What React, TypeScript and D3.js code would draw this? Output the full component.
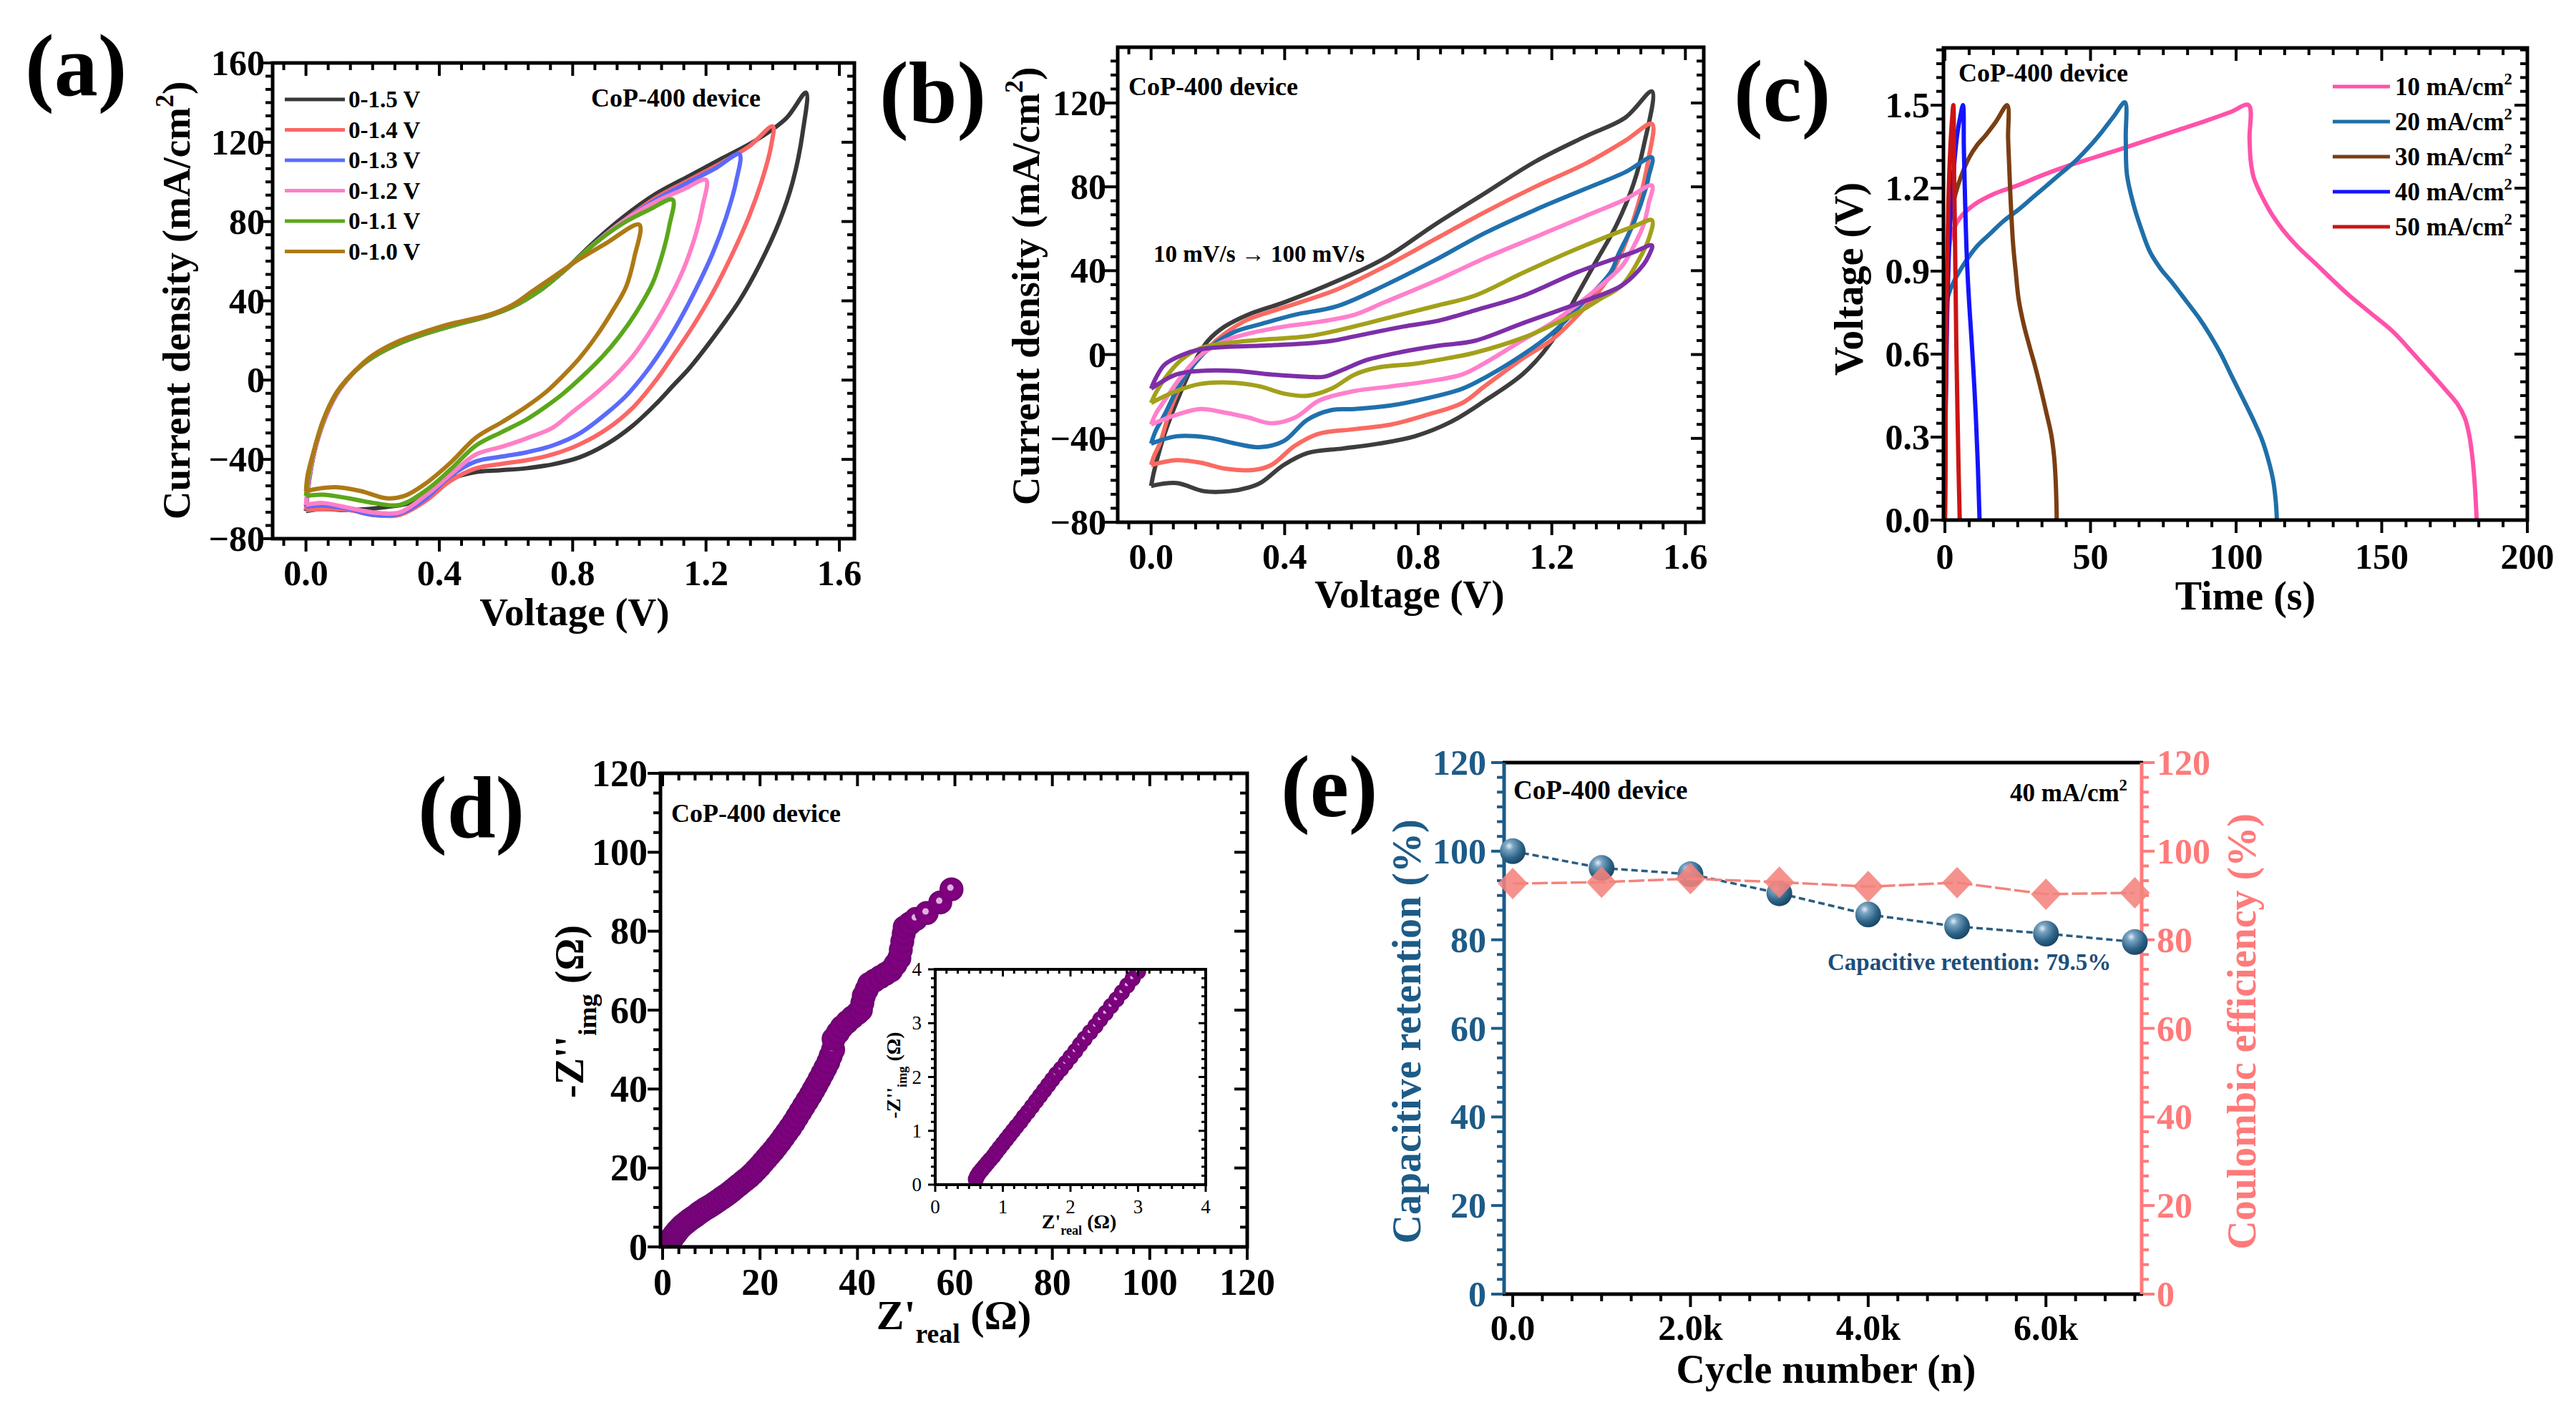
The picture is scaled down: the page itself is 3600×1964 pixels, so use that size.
import React, { useRef, useEffect } from 'react';
import * as d3 from 'd3';

type Pt = [number, number];

const W = 3600;
const H = 1964;
const SERIF = '"Liberation Serif", "Times New Roman", Times, serif';

// ---------- (a) CV loops at different potential windows: [V, mA/cm2] ----------
const windowLabels = ['0-1.5 V', '0-1.4 V', '0-1.3 V', '0-1.2 V', '0-1.1 V', '0-1.0 V'];
const windowColors = ['#383838', '#fb6666', '#5b6bfb', '#ff7fc6', '#5ba71a', '#ad7915'];

const cv15: Pt[] = [[0, -66], [0.01, -50], [0.03, -33], [0.06, -18], [0.1, -5], [0.15, 5], [0.2, 11.5], [0.28, 18.5], [0.36, 23.5], [0.45, 28], [0.55, 32.5], [0.62, 37], [0.7, 45], [0.78, 56], [0.86, 69], [0.95, 82], [1.05, 94], [1.15, 103], [1.25, 112], [1.35, 121], [1.44, 132], [1.5, 145],
  [1.49, 125], [1.46, 100], [1.42, 80], [1.36, 58], [1.3, 40], [1.22, 21], [1.15, 6], [1.1, -3], [1.05, -12], [0.98, -23], [0.9, -32.5], [0.82, -39], [0.74, -42.5], [0.66, -44.5], [0.58, -45.5], [0.51, -46.4], [0.43, -50], [0.39, -53], [0.35, -58], [0.31, -62], [0.24, -64], [0.13, -65.6], [0.05, -65], [0, -66]];
const cv14: Pt[] = [[0, -65.6], [0.01, -50], [0.03, -33], [0.06, -18], [0.1, -5], [0.15, 5], [0.2, 11.5], [0.28, 18.5], [0.36, 23.5], [0.45, 28], [0.55, 32.5], [0.62, 37], [0.7, 45], [0.78, 56], [0.86, 68], [0.95, 80], [1.05, 92], [1.15, 101], [1.25, 110], [1.33, 118], [1.4, 128],
  [1.395, 118], [1.37, 102], [1.33, 83], [1.28, 64], [1.22, 44], [1.16, 27], [1.1, 12], [1.05, 0], [0.98, -14], [0.9, -25], [0.82, -32.5], [0.74, -37.5], [0.66, -40.5], [0.59, -42.2], [0.51, -44.5], [0.43, -51.2], [0.36, -60.8], [0.28, -68], [0.2, -68], [0.13, -65.6], [0.05, -65], [0, -65.6]];
const cv13: Pt[] = [[0, -63.8], [0.01, -49], [0.03, -33], [0.06, -18], [0.1, -5], [0.15, 5], [0.2, 11.5], [0.28, 18.5], [0.36, 23.5], [0.45, 28], [0.55, 32.5], [0.62, 37], [0.7, 45], [0.78, 56], [0.86, 68], [0.95, 80], [1.05, 91], [1.15, 100], [1.23, 107], [1.3, 114],
  [1.29, 100], [1.26, 82], [1.22, 64], [1.17, 46], [1.12, 30], [1.07, 16], [1.02, 4], [0.96, -8], [0.9, -17], [0.82, -27], [0.74, -33], [0.66, -36.5], [0.59, -38.5], [0.51, -41], [0.43, -48.8], [0.36, -59.6], [0.28, -67.4], [0.2, -68], [0.13, -65], [0.05, -63.2], [0, -63.8]];
const cv12: Pt[] = [[0, -63], [0.01, -48], [0.03, -33], [0.06, -18], [0.1, -5], [0.15, 5], [0.2, 11.5], [0.28, 18.5], [0.36, 23.5], [0.45, 28], [0.55, 32.5], [0.62, 37], [0.7, 45], [0.78, 56], [0.86, 68], [0.95, 80], [1.05, 90], [1.13, 96], [1.2, 101],
  [1.19, 88], [1.17, 74], [1.13, 55], [1.08, 38], [1.03, 24], [0.98, 12], [0.92, 1], [0.86, -8], [0.8, -16], [0.74, -24], [0.66, -29.5], [0.59, -33.5], [0.51, -37.5], [0.434, -47.6], [0.357, -58.4], [0.28, -66.8], [0.204, -66.8], [0.127, -64.4], [0.05, -62], [0, -63]];
const cv11: Pt[] = [[0, -58.4], [0.01, -46], [0.03, -32], [0.06, -17], [0.1, -4.5], [0.15, 5], [0.2, 11.5], [0.28, 18.5], [0.36, 23.5], [0.45, 28], [0.55, 32.5], [0.62, 37], [0.7, 45], [0.78, 56], [0.86, 68], [0.95, 79], [1.03, 86], [1.1, 91],
  [1.09, 78], [1.07, 64], [1.04, 49], [0.99, 34], [0.94, 22], [0.89, 12], [0.83, 2], [0.77, -7], [0.71, -14.5], [0.66, -20], [0.59, -26], [0.51, -33], [0.434, -45], [0.357, -56], [0.28, -63], [0.204, -62], [0.127, -59.6], [0.05, -57.8], [0, -58.4]];
const cv10: Pt[] = [[0, -56], [0.005, -48], [0.02, -38], [0.05, -21], [0.09, -6.7], [0.13, 1.7], [0.2, 12.5], [0.28, 19.8], [0.36, 24.6], [0.43, 28.2], [0.55, 33], [0.62, 38], [0.68, 45], [0.75, 53], [0.82, 61], [0.9, 69], [1.0, 78.4],
  [0.985, 62], [0.96, 47], [0.92, 35], [0.87, 22], [0.82, 11], [0.77, 2], [0.72, -6], [0.66, -13.5], [0.59, -21], [0.51, -29], [0.434, -41.6], [0.357, -52.4], [0.296, -58.4], [0.242, -59.6], [0.165, -56], [0.089, -54], [0.035, -54.8], [0, -56]];
const windowLoops = [cv15, cv14, cv13, cv12, cv11, cv10];

// ---------- (b) CV loops, 100 mV/s down to 10 mV/s ----------
const rateColors = ['#3d3d3d', '#fa6a62', '#1f70ad', '#ff80cc', '#a3a01a', '#7d2fa8'];
const rate100: Pt[] = [[0, -62.7], [0.01, -55], [0.04, -38], [0.09, -17.4], [0.133, -2.6], [0.17, 6.5], [0.22, 13.3], [0.29, 19], [0.4, 25], [0.556, 35], [0.7, 46], [0.85, 62], [1.0, 77], [1.15, 92], [1.3, 104], [1.42, 113], [1.5, 125.5],
  [1.475, 99.3], [1.443, 80.6], [1.394, 61.9], [1.328, 43.2], [1.262, 24.4], [1.197, 5.7], [1.114, -9.2], [1.0, -22], [0.897, -32.2], [0.79, -39], [0.682, -42.5], [0.575, -44.8], [0.468, -47], [0.397, -52.7], [0.33, -61], [0.291, -63.5], [0.235, -65.2], [0.158, -65.2], [0.076, -61.3], [0, -62.7]];
const rate80: Pt[] = [[0, -52.7], [0.01, -48], [0.026, -42.5], [0.06, -25.4], [0.11, -8.3], [0.17, 3], [0.22, 9.9], [0.29, 16.7], [0.397, 22.4], [0.556, 31], [0.7, 42], [0.85, 55], [1.0, 68], [1.15, 80], [1.3, 91], [1.42, 102], [1.5, 110],
  [1.49, 93.7], [1.458, 71.3], [1.394, 43.2], [1.35, 32], [1.278, 18.8], [1.2, 7], [1.114, -1.8], [1.0, -15], [0.932, -23.1], [0.825, -28.8], [0.718, -33.4], [0.61, -35.6], [0.5, -37.9], [0.43, -43.6], [0.36, -52.7], [0.31, -55], [0.22, -54.4], [0.148, -51.6], [0.076, -50.4], [0, -52.7]];
const rate60: Pt[] = [[0, -42.5], [0.015, -36], [0.04, -28.8], [0.083, -15.2], [0.133, -3.8], [0.183, 4.2], [0.253, 11], [0.326, 14.4], [0.432, 19], [0.556, 23], [0.7, 33], [0.85, 45], [1.0, 58], [1.15, 69], [1.3, 79], [1.42, 87], [1.5, 94],
  [1.49, 85], [1.484, 80.6], [1.443, 61.9], [1.4, 48], [1.377, 39.4], [1.278, 22.2], [1.2, 10], [1.114, 0], [1.0, -11], [0.932, -16.3], [0.825, -20.9], [0.718, -24.3], [0.61, -26], [0.54, -26.5], [0.468, -31.1], [0.397, -41.3], [0.326, -44.2], [0.253, -42.5], [0.17, -39.6], [0.076, -39], [0, -42.5]];
const rate40: Pt[] = [[0, -33.4], [0.015, -28], [0.04, -22], [0.09, -10.6], [0.148, -0.4], [0.22, 6.5], [0.29, 9.9], [0.397, 13.3], [0.503, 15.6], [0.61, 19], [0.7, 25], [0.85, 35], [1.0, 46], [1.15, 56], [1.3, 66], [1.42, 74], [1.5, 80.6],
  [1.49, 72], [1.475, 62], [1.44, 50], [1.409, 42], [1.34, 32], [1.278, 24], [1.2, 15], [1.114, 7], [1.0, -4], [0.932, -9.5], [0.825, -12.9], [0.718, -15.2], [0.61, -17.4], [0.503, -22], [0.432, -30], [0.36, -32.8], [0.29, -30], [0.22, -27.7], [0.148, -26], [0.076, -28.8], [0, -33.4]];
const rate20: Pt[] = [[0, -23.1], [0.015, -18], [0.04, -11.7], [0.09, -2.6], [0.148, 3], [0.22, 5.3], [0.326, 7], [0.468, 8.7], [0.575, 12.1], [0.718, 17.8], [0.86, 23.5], [0.968, 28], [1.114, 39], [1.278, 50.6], [1.443, 61], [1.5, 64],
  [1.49, 55], [1.46, 45], [1.41, 33], [1.34, 26], [1.278, 20], [1.2, 14], [1.114, 8], [0.968, 0.8], [0.897, -1.5], [0.79, -4.4], [0.682, -6.1], [0.61, -9.5], [0.54, -16.3], [0.468, -19.7], [0.397, -18.6], [0.326, -15.2], [0.253, -13.5], [0.148, -14], [0.076, -17.4], [0, -23.1]];
const rate10: Pt[] = [[0, -16.3], [0.015, -11], [0.04, -4.9], [0.09, -0.4], [0.148, 2.5], [0.22, 3.6], [0.326, 4.2], [0.468, 5.3], [0.54, 6.5], [0.61, 8.7], [0.754, 13.3], [0.86, 16.1], [0.968, 21], [1.114, 28], [1.278, 39.4], [1.443, 48.7], [1.5, 52],
  [1.49, 47], [1.475, 43], [1.41, 33], [1.278, 24.4], [1.114, 15], [0.968, 6.5], [0.86, 4.2], [0.753, 1.3], [0.646, -2.6], [0.575, -7.2], [0.518, -10.6], [0.468, -10.6], [0.36, -9.5], [0.253, -7.8], [0.148, -7.8], [0.076, -9.5], [0, -16.3]];
const rateLoops = [rate100, rate80, rate60, rate40, rate20, rate10];

// ---------- (c) galvanostatic charge/discharge: [s, V] ----------
const gcdLabels = ['10 mA/cm', '20 mA/cm', '30 mA/cm', '40 mA/cm', '50 mA/cm'];
const gcdColors = ['#ff52aa', '#1f6fa9', '#7a3e12', '#1414ff', '#cc1414'];
const gcd10: Pt[] = [[0, 0], [0.4, 0.6], [1, 0.9], [2, 1.02], [5, 1.09], [10, 1.14], [17, 1.18], [25, 1.21], [33, 1.245], [42, 1.28], [51, 1.31], [60, 1.34], [70, 1.375], [80, 1.41], [90, 1.445], [98, 1.475], [104.3, 1.5],
  [104.6, 1.38], [105, 1.3], [106, 1.24], [108.4, 1.18], [112, 1.11], [116, 1.05], [121, 0.99], [127, 0.93], [138, 0.82], [146, 0.75], [154, 0.68], [161, 0.6], [167, 0.53], [172, 0.47], [176, 0.42], [178.5, 0.37], [180, 0.31], [181.2, 0.22], [182, 0.12], [182.6, 0]];
const gcd20: Pt[] = [[0, 0], [0.4, 0.55], [0.9, 0.8], [3, 0.86], [6.5, 0.925], [11, 0.99], [16, 1.04], [20, 1.08], [25, 1.12], [30, 1.165], [35, 1.21], [40, 1.255], [45, 1.3], [50, 1.355], [54, 1.405], [58, 1.46], [61.8, 1.51],
  [62.1, 1.38], [62.5, 1.25], [64.8, 1.14], [67.5, 1.05], [70.4, 0.97], [74, 0.91], [77.9, 0.86], [83, 0.79], [87.3, 0.73], [91, 0.67], [94.8, 0.6], [98.5, 0.52], [102.3, 0.44], [106, 0.36], [108.9, 0.29], [111, 0.22], [112.7, 0.145], [113.6, 0.07], [114, 0]];
const gcd30: Pt[] = [[0, 0], [0.3, 0.5], [0.8, 0.92], [2, 1.1], [4.5, 1.21], [8.3, 1.31], [11, 1.355], [13.9, 1.39], [17.5, 1.44], [21.4, 1.5],
  [21.7, 1.38], [22, 1.3], [22.6, 1.15], [23.4, 1.0], [24.3, 0.9], [25.3, 0.8], [27, 0.71], [29, 0.63], [31, 0.555], [32.8, 0.48], [34.8, 0.39], [36.5, 0.31], [37.5, 0.23], [38, 0.15], [38.3, 0.06], [38.4, 0]];
const gcd40: Pt[] = [[0, 0], [0.3, 0.45], [0.8, 0.75], [1.5, 1.0], [2.4, 1.18], [3.3, 1.3], [4.3, 1.4], [5.3, 1.46], [6.2, 1.5],
  [6.5, 1.35], [6.8, 1.21], [7.2, 1.05], [7.6, 0.93], [8.3, 0.79], [9.1, 0.66], [9.9, 0.52], [10.6, 0.38], [11.3, 0.2], [11.9, 0]];
const gcd50: Pt[] = [[0, 0], [0.3, 0.5], [0.7, 0.85], [1.2, 1.15], [1.8, 1.33], [2.4, 1.44], [2.9, 1.5],
  [3.1, 1.3], [3.3, 1.15], [3.6, 0.9], [3.9, 0.65], [4.3, 0.4], [4.7, 0.18], [5.1, 0]];
const gcdCurves = [gcd10, gcd20, gcd30, gcd40, gcd50];

// ---------- (d) Nyquist plot: [Z' ohm, -Z'' ohm] ----------
const eisPoints: Pt[] = [
  [0.60, 0.10], [0.62, 0.16], [0.65, 0.22], [0.69, 0.28], [0.73, 0.34], [0.77, 0.40], [0.81, 0.46], [0.86, 0.53], [0.90, 0.60], [0.95, 0.68],
  [1.00, 0.76], [1.05, 0.84], [1.10, 0.92], [1.15, 1.00], [1.20, 1.08], [1.26, 1.17], [1.31, 1.26], [1.37, 1.35], [1.43, 1.45], [1.49, 1.55],
  [1.55, 1.65], [1.61, 1.75], [1.67, 1.85], [1.73, 1.95], [1.79, 2.05], [1.86, 2.15], [1.93, 2.26], [2.00, 2.37], [2.07, 2.48], [2.14, 2.60],
  [2.21, 2.71], [2.29, 2.83], [2.37, 2.95], [2.44, 3.07], [2.52, 3.19], [2.60, 3.32], [2.68, 3.44], [2.76, 3.57], [2.84, 3.70], [2.92, 3.83], [3.00, 3.96],
  [3.3, 4.4], [3.7, 4.9], [4.1, 5.4], [4.6, 5.9], [5.1, 6.4], [5.6, 6.9], [6.2, 7.4], [6.8, 7.9], [7.4, 8.5], [8.0, 9.0],
  [8.7, 9.6], [9.4, 10.1], [10.1, 10.6], [10.8, 11.2], [11.5, 11.8], [12.2, 12.4], [12.9, 13.0], [13.6, 13.6], [14.3, 14.3], [15.0, 15.0],
  [15.7, 15.7], [16.4, 16.4], [17.1, 17.1], [17.8, 17.8], [18.5, 18.6], [19.2, 19.5], [19.9, 20.4], [20.6, 21.4], [21.3, 22.4], [22.0, 23.4],
  [22.7, 24.4], [23.4, 25.5], [24.1, 26.6], [24.8, 27.8], [25.5, 29.0], [26.2, 30.2], [26.9, 31.5], [27.6, 32.9], [28.3, 34.3], [29.0, 35.7],
  [29.7, 37.1], [30.4, 38.5], [31.0, 39.8], [31.6, 41.1], [32.2, 42.5], [32.8, 43.9], [33.4, 45.3], [34.0, 46.8], [34.5, 48.4], [35.0, 50.0],
  [35.1, 52.7], [36.0, 54.3], [36.8, 55.7], [37.9, 57.0], [39.0, 58.2], [40.0, 59.2], [40.7, 60.0], [41.0, 61.8], [41.3, 63.6], [41.9, 65.2],
  [42.4, 66.6], [43.5, 67.5], [44.7, 68.4], [45.8, 69.2], [46.9, 70.1], [47.8, 71.6], [48.6, 73.2], [48.9, 75.3], [49.2, 77.4], [49.5, 79.4],
  [49.7, 81.0], [50.8, 82.0], [52.0, 83.1], [54.2, 84.6], [57.0, 87.3], [59.3, 90.6],
];

// ---------- (e) cycling stability ----------
const cycleNumbers = [0, 1000, 2000, 3000, 4000, 5000, 6000, 7000];
const retention = [100, 96.2, 94.8, 90.5, 85.7, 83.0, 81.4, 79.5];
const coulombic = [92.7, 93.0, 93.8, 93.0, 92.0, 92.9, 90.3, 90.6];

const BLUE_AX = '#1d5b87';
const PINK_AX = '#ff7a7a';

type Part = { t: string; sup?: boolean; sub?: boolean };

function rich(g: any, x: number, y: number, parts: Part[], size: number, opts: any = {}) {
  const t = g.append('text')
    .attr('font-family', SERIF)
    .attr('font-weight', opts.weight || 'bold')
    .attr('font-size', size)
    .attr('fill', opts.fill || '#000')
    .attr('text-anchor', opts.anchor || 'middle');
  if (opts.rotate) t.attr('transform', `translate(${x},${y}) rotate(-90)`);
  else t.attr('x', x).attr('y', y);
  let shift = 0;
  parts.forEach(p => {
    const target = p.sup ? -size * 0.42 : p.sub ? size * 0.32 : 0;
    const s = t.append('tspan').text(p.t).attr('dy', target - shift);
    if (p.sup || p.sub) s.attr('font-size', size * 0.65);
    shift = target;
  });
  return t;
}

function ticks(g: any, scale: any, side: string, at: number, majors: number[], minorStep: number,
  color: string, inward: boolean, maj = 18, min = 10, sw = 4) {
  const [a, b] = scale.domain();
  const lo = Math.min(a, b), hi = Math.max(a, b);
  const sgn = side === 'bottom' || side === 'right' ? 1 : -1;
  const dir = inward ? -sgn : sgn;
  const list: [number, number][] = [];
  majors.filter(v => v >= lo - 1e-9 && v <= hi + 1e-9).forEach(v => list.push([v, maj]));
  const i0 = Math.ceil(lo / minorStep - 1e-6);
  const i1 = Math.floor(hi / minorStep + 1e-6);
  for (let i = i0; i <= i1; i++) {
    const v = i * minorStep;
    if (majors.some(m => Math.abs(m - v) < minorStep * 0.3)) continue;
    list.push([v, min]);
  }
  list.forEach(([v, len]) => {
    const p = scale(v);
    const ln = g.append('line').attr('stroke', color).attr('stroke-width', sw);
    if (side === 'bottom' || side === 'top') ln.attr('x1', p).attr('x2', p).attr('y1', at).attr('y2', at + dir * len);
    else ln.attr('y1', p).attr('y2', p).attr('x1', at).attr('x2', at + dir * len);
  });
}

// framed axes: ticks out on left/bottom, in on top/right
function boxAxes(g: any, x: any, y: any, o: any) {
  const [x0, x1] = x.range();
  const [y0, y1] = y.range();
  const fs = o.font || 50;
  const maj = o.maj || 18, min = o.min || 10, sw = o.sw || 4;
  ticks(g, x, 'bottom', y0, o.xMajors, o.xMinor, '#000', false, maj, min, sw);
  ticks(g, x, 'top', y1, o.xMajors, o.xMinor, '#000', true, maj, min, sw);
  ticks(g, y, 'left', x0, o.yMajors, o.yMinor, '#000', false, maj, min, sw);
  ticks(g, y, 'right', x1, o.yMajors, o.yMinor, '#000', true, maj, min, sw);
  g.append('rect').attr('x', x0).attr('y', y1).attr('width', x1 - x0).attr('height', y0 - y1)
    .attr('fill', 'none').attr('stroke', '#000').attr('stroke-width', o.frame || 5);
  o.xMajors.forEach((v: number) => {
    g.append('text').attr('x', x(v)).attr('y', o.xLabelY).attr('text-anchor', 'middle')
      .attr('font-family', SERIF).attr('font-weight', o.weight || 'bold').attr('font-size', fs).text(o.xFmt(v));
  });
  o.yMajors.forEach((v: number) => {
    g.append('text').attr('x', o.yLabelX).attr('y', y(v) + fs * 0.34).attr('text-anchor', 'end')
      .attr('font-family', SERIF).attr('font-weight', o.weight || 'bold').attr('font-size', fs).text(o.yFmt(v));
  });
}

function panelLetter(svg: any, x: number, y: number, s: string) {
  svg.append('text').attr('x', x).attr('y', y).attr('font-family', SERIF).attr('font-weight', 'bold')
    .attr('font-size', 122).text(s);
}

function drawA(svg: any) {
  const x = d3.scaleLinear().domain([-0.1, 1.645]).range([381, 1194]);
  const y = d3.scaleLinear().domain([-80, 160]).range([753, 88]);
  const g = svg.append('g');
  const line = d3.line<Pt>().x(d => x(d[0])).y(d => y(d[1])).curve(d3.curveCatmullRom.alpha(0.5));
  windowLoops.forEach((loop, i) => {
    g.append('path').attr('d', line(loop)).attr('fill', 'none').attr('stroke', windowColors[i])
      .attr('stroke-width', 6).attr('stroke-linejoin', 'round');
  });
  boxAxes(g, x, y, {
    xMajors: [0, 0.4, 0.8, 1.2, 1.6], xMinor: 0.4 / 6, yMajors: d3.range(-80, 161, 40), yMinor: 40 / 6,
    xFmt: d3.format('.1f'), yFmt: d3.format('d'), xLabelY: 818, yLabelX: 370,
  });
  windowLabels.forEach((lab, i) => {
    const cy = 139 + i * 42.5;
    g.append('line').attr('x1', 398).attr('x2', 482).attr('y1', cy).attr('y2', cy)
      .attr('stroke', windowColors[i]).attr('stroke-width', 5);
    g.append('text').attr('x', 487).attr('y', cy + 11).attr('font-family', SERIF).attr('font-weight', 'bold')
      .attr('font-size', 33).text(lab);
  });
  rich(g, 826, 149, [{ t: 'CoP-400 device' }], 36, { anchor: 'start' });
  rich(g, 803, 874, [{ t: 'Voltage (V)' }], 55);
  rich(g, 265, 420, [{ t: 'Current density (mA/cm' }, { t: '2', sup: true }, { t: ')' }], 55, { rotate: true });
  panelLetter(svg, 35, 133, '(a)');
}

function drawB(svg: any) {
  const x = d3.scaleLinear().domain([-0.1, 1.655]).range([1562, 2381]);
  const y = d3.scaleLinear().domain([-80, 146.6]).range([730, 66]);
  const g = svg.append('g');
  const line = d3.line<Pt>().x(d => x(d[0])).y(d => y(d[1])).curve(d3.curveCatmullRom.alpha(0.5));
  rateLoops.forEach((loop, i) => {
    g.append('path').attr('d', line(loop)).attr('fill', 'none').attr('stroke', rateColors[i])
      .attr('stroke-width', 6).attr('stroke-linejoin', 'round');
  });
  boxAxes(g, x, y, {
    xMajors: [0, 0.4, 0.8, 1.2, 1.6], xMinor: 0.4 / 6, yMajors: d3.range(-80, 121, 40), yMinor: 40 / 6,
    xFmt: d3.format('.1f'), yFmt: d3.format('d'), xLabelY: 795, yLabelX: 1546,
  });
  rich(g, 1577, 133, [{ t: 'CoP-400 device' }], 36, { anchor: 'start' });
  rich(g, 1612, 366, [{ t: '10 mV/s \u2192 100 mV/s' }], 33, { anchor: 'start' });
  rich(g, 1970, 849, [{ t: 'Voltage (V)' }], 55);
  rich(g, 1452, 400, [{ t: 'Current density (mA/cm' }, { t: '2', sup: true }, { t: ')' }], 55, { rotate: true });
  panelLetter(svg, 1229, 171, '(b)');
}

function drawC(svg: any) {
  const x = d3.scaleLinear().domain([-0.5, 200]).range([2716, 3532]);
  const y = d3.scaleLinear().domain([0, 1.707]).range([727, 67]);
  const g = svg.append('g');
  const line = d3.line<Pt>().x(d => x(d[0])).y(d => y(d[1])).curve(d3.curveCatmullRom.alpha(0.5));
  gcdCurves.forEach((c, i) => {
    g.append('path').attr('d', line(c)).attr('fill', 'none').attr('stroke', gcdColors[i])
      .attr('stroke-width', 6).attr('stroke-linejoin', 'round');
  });
  boxAxes(g, x, y, {
    xMajors: [0, 50, 100, 150, 200], xMinor: 50 / 6, yMajors: [0, 0.3, 0.6, 0.9, 1.2, 1.5], yMinor: 0.05,
    xFmt: d3.format('d'), yFmt: d3.format('.1f'), xLabelY: 795, yLabelX: 2697,
  });
  gcdLabels.forEach((lab, i) => {
    const cy = 121 + i * 49;
    g.append('line').attr('x1', 3260).attr('x2', 3340).attr('y1', cy).attr('y2', cy)
      .attr('stroke', gcdColors[i]).attr('stroke-width', 5);
    rich(g, 3347, cy + 12, [{ t: lab }, { t: '2', sup: true }], 35, { anchor: 'start' });
  });
  rich(g, 2737, 114, [{ t: 'CoP-400 device' }], 36, { anchor: 'start' });
  rich(g, 3138, 852, [{ t: 'Time (s)' }], 56);
  rich(g, 2603, 390, [{ t: 'Voltage (V)' }], 56, { rotate: true });
  panelLetter(svg, 2423, 169, '(c)');
}

function eisMarkers(g: any, pts: Pt[], x: any, y: any, r: number, hl: number) {
  pts.forEach(d => {
    g.append('circle').attr('cx', x(d[0])).attr('cy', y(d[1])).attr('r', r)
      .attr('fill', '#800080').attr('stroke', '#6e0672').attr('stroke-width', 2.5);
    g.append('circle').attr('cx', x(d[0]) - r * 0.1).attr('cy', y(d[1]) - r * 0.15).attr('r', hl)
      .attr('fill', '#e9c4ea').attr('opacity', 0.9);
  });
}

function drawD(svg: any) {
  const x = d3.scaleLinear().domain([-0.44, 120]).range([923, 1743]);
  const y = d3.scaleLinear().domain([0, 120]).range([1743, 1081]);
  const g = svg.append('g');
  const defs = svg.append('defs');
  defs.append('clipPath').attr('id', 'eisClip').append('rect')
    .attr('x', 923).attr('y', 1081).attr('width', 820).attr('height', 662);
  defs.append('clipPath').attr('id', 'insetClip').append('rect')
    .attr('x', 1307).attr('y', 1355).attr('width', 378).attr('height', 301);

  const main = g.append('g').attr('clip-path', 'url(#eisClip)');
  eisMarkers(main, eisPoints, x, y, 15.5, 4.5);

  boxAxes(g, x, y, {
    xMajors: d3.range(0, 121, 20), xMinor: 20 / 6, yMajors: d3.range(0, 121, 20), yMinor: 5,
    xFmt: d3.format('d'), yFmt: d3.format('d'), xLabelY: 1810, yLabelX: 905, font: 52,
  });
  rich(g, 938, 1149, [{ t: 'CoP-400 device' }], 36, { anchor: 'start' });
  rich(g, 1333, 1858, [{ t: "Z'" }, { t: 'real', sub: true }, { t: ' (\u03A9)' }], 58);
  rich(g, 815, 1414, [{ t: "-Z''" }, { t: 'img', sub: true }, { t: ' (\u03A9)' }], 56, { rotate: true });

  // inset: high-frequency region
  const xi = d3.scaleLinear().domain([0, 4]).range([1307, 1685]);
  const yi = d3.scaleLinear().domain([0, 4]).range([1656, 1355]);
  g.append('rect').attr('x', 1307).attr('y', 1355).attr('width', 378).attr('height', 301).attr('fill', '#fff');
  const ins = g.append('g').attr('clip-path', 'url(#insetClip)');
  eisMarkers(ins, eisPoints.filter(d => d[0] <= 4.5 && d[1] <= 4.5), xi, yi, 10, 2.5);
  boxAxes(g, xi, yi, {
    xMajors: [0, 1, 2, 3, 4], xMinor: 1 / 6, yMajors: [0, 1, 2, 3, 4], yMinor: 1 / 6,
    xFmt: d3.format('d'), yFmt: d3.format('d'), xLabelY: 1696, yLabelX: 1288, font: 27,
    weight: 'normal', frame: 4, maj: 10, min: 6, sw: 3,
  });
  rich(g, 1508, 1717, [{ t: "Z'" }, { t: 'real', sub: true }, { t: ' (\u03A9)' }], 28);
  rich(g, 1258, 1503, [{ t: "-Z''" }, { t: 'img', sub: true }, { t: ' (\u03A9)' }], 28, { rotate: true });
  panelLetter(svg, 584, 1170, '(d)');
}

function drawE(svg: any) {
  const x = d3.scaleLinear().domain([-97, 7077]).range([2102, 2993]);
  const yL = d3.scaleLinear().domain([0, 120]).range([1809, 1066]);
  const yR = d3.scaleLinear().domain([0, 120]).range([1809, 1066]);
  const g = svg.append('g');
  const defs = svg.append('defs');
  const grad = defs.append('radialGradient').attr('id', 'ballGrad')
    .attr('cx', '0.36').attr('cy', '0.3').attr('r', '0.75');
  grad.append('stop').attr('offset', '0%').attr('stop-color', '#e4eef5');
  grad.append('stop').attr('offset', '22%').attr('stop-color', '#7aa3c2');
  grad.append('stop').attr('offset', '65%').attr('stop-color', '#2d6488');
  grad.append('stop').attr('offset', '100%').attr('stop-color', '#17415e');

  const [x0, x1] = x.range();
  const [yb, yt] = yL.range();
  ticks(g, x, 'bottom', yb, [0, 2000, 4000, 6000], 2000 / 6, '#000', false);
  ticks(g, yL, 'left', x0, d3.range(0, 121, 20), 20 / 6, BLUE_AX, false);
  ticks(g, yR, 'right', x1, d3.range(0, 121, 20), 20 / 6, PINK_AX, false);
  g.append('line').attr('x1', x0 - 2).attr('x2', x1 + 2).attr('y1', yt).attr('y2', yt).attr('stroke', '#000').attr('stroke-width', 5);
  g.append('line').attr('x1', x0 - 2).attr('x2', x1 + 2).attr('y1', yb).attr('y2', yb).attr('stroke', '#000').attr('stroke-width', 5);
  g.append('line').attr('x1', x0).attr('x2', x0).attr('y1', yt).attr('y2', yb).attr('stroke', BLUE_AX).attr('stroke-width', 5);
  g.append('line').attr('x1', x1).attr('x2', x1).attr('y1', yt).attr('y2', yb).attr('stroke', PINK_AX).attr('stroke-width', 5);

  const fs = 50;
  [0, 2000, 4000, 6000].forEach(v => {
    g.append('text').attr('x', x(v)).attr('y', 1873).attr('text-anchor', 'middle').attr('font-family', SERIF)
      .attr('font-weight', 'bold').attr('font-size', fs).text(v === 0 ? '0.0' : `${(v / 1000).toFixed(1)}k`);
  });
  d3.range(0, 121, 20).forEach(v => {
    g.append('text').attr('x', 2077).attr('y', yL(v) + fs * 0.34).attr('text-anchor', 'end').attr('font-family', SERIF)
      .attr('font-weight', 'bold').attr('font-size', fs).attr('fill', BLUE_AX).text(v);
    g.append('text').attr('x', 3014).attr('y', yR(v) + fs * 0.34).attr('text-anchor', 'start').attr('font-family', SERIF)
      .attr('font-weight', 'bold').attr('font-size', fs).attr('fill', PINK_AX).text(v);
  });

  const retLine = d3.line<number>().x((_, i) => x(cycleNumbers[i])).y(d => yL(d));
  g.append('path').attr('d', retLine(retention)).attr('fill', 'none').attr('stroke', '#2b5d80')
    .attr('stroke-width', 3.5).attr('stroke-dasharray', '9,5');
  retention.forEach((v, i) => {
    g.append('circle').attr('cx', x(cycleNumbers[i])).attr('cy', yL(v)).attr('r', 18).attr('fill', 'url(#ballGrad)');
  });

  const ceLine = d3.line<number>().x((_, i) => x(cycleNumbers[i])).y(d => yR(d));
  g.append('path').attr('d', ceLine(coulombic)).attr('fill', 'none').attr('stroke', '#f4837d')
    .attr('stroke-width', 3.5).attr('stroke-dasharray', '22,5');
  coulombic.forEach((v, i) => {
    const cx = x(cycleNumbers[i]), cy = yR(v);
    g.append('path').attr('d', `M${cx},${cy - 22}L${cx + 21},${cy}L${cx},${cy + 22}L${cx - 21},${cy}Z`)
      .attr('fill', '#f4837d').attr('opacity', 0.88);
  });

  rich(g, 2115, 1117, [{ t: 'CoP-400 device' }], 37, { anchor: 'start' });
  rich(g, 2809, 1120, [{ t: '40 mA/cm' }, { t: '2', sup: true }], 35, { anchor: 'start' });
  rich(g, 2554, 1356, [{ t: 'Capacitive retention: 79.5%' }], 33, { anchor: 'start', fill: '#1d4e79' });
  rich(g, 2552, 1933, [{ t: 'Cycle number (n)' }], 56);
  rich(g, 1985, 1442, [{ t: 'Capacitive retention (%)' }], 56, { rotate: true, fill: BLUE_AX });
  rich(g, 3152, 1442, [{ t: 'Coulombic efficiency (%)' }], 56, { rotate: true, fill: PINK_AX });
  panelLetter(svg, 1790, 1141, '(e)');
}

export default function App() {
  const svgRef = useRef<SVGSVGElement>(null);

  useEffect(() => {
    const svg = d3.select(svgRef.current);
    svg.selectAll('*').remove();
    svg.append('rect').attr('width', W).attr('height', H).attr('fill', '#fff');
    drawA(svg);
    drawB(svg);
    drawC(svg);
    drawD(svg);
    drawE(svg);
  }, []);

  return (
    <svg ref={svgRef} width={W} height={H}
      style={{ position: 'absolute', left: 0, top: 0, display: 'block', background: '#fff' }} />
  );
}
